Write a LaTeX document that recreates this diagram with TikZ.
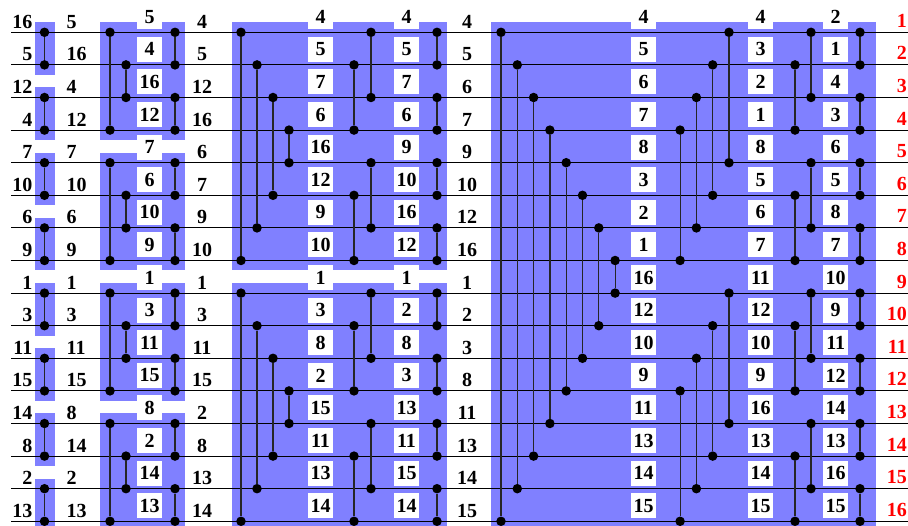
\documentclass[tikz,border=0pt]{standalone}
\usepackage{fontspec}
\setmainfont{Liberation Serif}
\newcommand{\wirey}[1]{32.3+(#1-1)*32.6}
% comparator: column name, x, upper wire, lower wire
\newcommand{\cmp}[4]{%
  \node[dot] at ({#2},{\wirey{#3}}) (#1-#3) {};
  \node[dot] at ({#2},{\wirey{#4}}) (#1-#4) {};
  \draw[comp] (#1-#3) -- (#1-#4);}

\begin{document}
\begin{tikzpicture}[x=1pt, y=-1pt,
  every node/.style={font=\fontsize{20}{24}\selectfont\bfseries},
  band/.style={fill=blue!50, draw=none},
  wire/.style={line width=1.1pt, black},
  comp/.style={line width=1.2pt, black!85},
  dot/.style={circle, fill=black, inner sep=0pt, minimum size=9.5pt},
  val/.style={inner sep=0pt},
  boxval/.style={fill=white, inner sep=0pt,
    minimum width=25pt, minimum height=25pt},
  idx/.style={text=red, inner sep=0pt, anchor=base east},
]
\useasboundingbox (0,0) rectangle (908,526);

% blue blocks
\foreach \a in {1,3,...,15}
  \fill[band] (35,{\wirey{\a}-10}) rectangle (55,{\wirey{\a}+42.6});
\foreach \a in {1,5,9,13}
  \fill[band] (100,{\wirey{\a}-10}) rectangle (185,{\wirey{\a}+107.8});
\foreach \a in {1,9}
  \fill[band] (232,{\wirey{\a}-10}) rectangle (447,{\wirey{\a}+238.2});
\fill[band] (491,{\wirey{1}-10}) rectangle (876,{\wirey{16}+10});

% wires
\foreach \i in {1,...,16} {
  \coordinate (w\i-l) at (11,{\wirey{\i}});
  \coordinate (w\i-r) at (908,{\wirey{\i}});
  \draw[wire] (w\i-l) -- (w\i-r);
}

% comparators
\foreach \a in {1,3,...,15} {
  \pgfmathtruncatemacro\wb{\a+1}
  \cmp{sa}{44.5}{\a}{\wb}
  \cmp{sd}{175}{\a}{\wb}
  \cmp{sh}{437}{\a}{\wb}
  \cmp{so}{860}{\a}{\wb}
}
\foreach \a in {1,5,9,13} {
  \pgfmathtruncatemacro\wb{\a+1}
  \pgfmathtruncatemacro\wc{\a+2}
  \pgfmathtruncatemacro\wd{\a+3}
  \cmp{sb}{110}{\a}{\wd}
  \cmp{sc}{126}{\wb}{\wc}
  \cmp{sf}{354}{\wb}{\wd}
  \cmp{sg}{371}{\a}{\wc}
  \cmp{sm}{795}{\wb}{\wd}
  \cmp{sn}{811}{\a}{\wc}
}
\foreach \a in {1,9} \foreach \k in {0,...,3} {
  \pgfmathtruncatemacro\wb{\a+\k}
  \pgfmathtruncatemacro\wc{\a+7-\k}
  \pgfmathtruncatemacro\wd{\a+4+\k}
  \cmp{se\k}{241+16*\k}{\wb}{\wc}
  \cmp{sl\k}{729-16.3*\k}{\wb}{\wd}
}
\foreach \k in {0,...,7} {
  \pgfmathtruncatemacro\wb{1+\k}
  \pgfmathtruncatemacro\wc{16-\k}
  \cmp{sj\k}{501+16.3*\k}{\wb}{\wc}
}

% values
\foreach \v [count=\i] in {16,5,12,4,7,10,6,9,1,3,11,15,14,8,2,13}
  \node[val, anchor=base east] at (32.5,{\wirey{\i}-4}) (c0-\i) {\v};
\foreach \v [count=\i] in {5,16,4,12,7,10,6,9,1,3,11,15,8,14,2,13}
  \node[val, anchor=base west] at (66.5,{\wirey{\i}-4}) (c1-\i) {\v};
\foreach \v [count=\i] in {5,4,16,12,7,6,10,9,1,3,11,15,8,2,14,13}
  \node[boxval] at (149.5,{\wirey{\i}-15.5}) (c2-\i) {\v};
\foreach \v [count=\i] in {4,5,12,16,6,7,9,10,1,3,11,15,2,8,13,14}
  \node[val, anchor=base] at (202,{\wirey{\i}-4}) (c3-\i) {\v};
\foreach \v [count=\i] in {4,5,7,6,16,12,9,10,1,3,8,2,15,11,13,14}
  \node[boxval] at (320.5,{\wirey{\i}-15.5}) (c4-\i) {\v};
\foreach \v [count=\i] in {4,5,7,6,9,10,16,12,1,2,8,3,13,11,15,14}
  \node[boxval] at (406.5,{\wirey{\i}-15.5}) (c5-\i) {\v};
\foreach \v [count=\i] in {4,5,6,7,9,10,12,16,1,2,3,8,11,13,14,15}
  \node[val, anchor=base] at (467,{\wirey{\i}-4}) (c6-\i) {\v};
\foreach \v [count=\i] in {4,5,6,7,8,3,2,1,16,12,10,9,11,13,14,15}
  \node[boxval] at (643.5,{\wirey{\i}-15.5}) (c7-\i) {\v};
\foreach \v [count=\i] in {4,3,2,1,8,5,6,7,11,12,10,9,16,13,14,15}
  \node[boxval] at (760.5,{\wirey{\i}-15.5}) (c8-\i) {\v};
\foreach \v [count=\i] in {2,1,4,3,6,5,8,7,10,9,11,12,14,13,16,15}
  \node[boxval] at (835.7,{\wirey{\i}-15.5}) (c9-\i) {\v};
\foreach \i in {1,...,16}
  \node[idx] at (907,{\wirey{\i}-5}) (out\i) {\i};
\end{tikzpicture}
\end{document}
